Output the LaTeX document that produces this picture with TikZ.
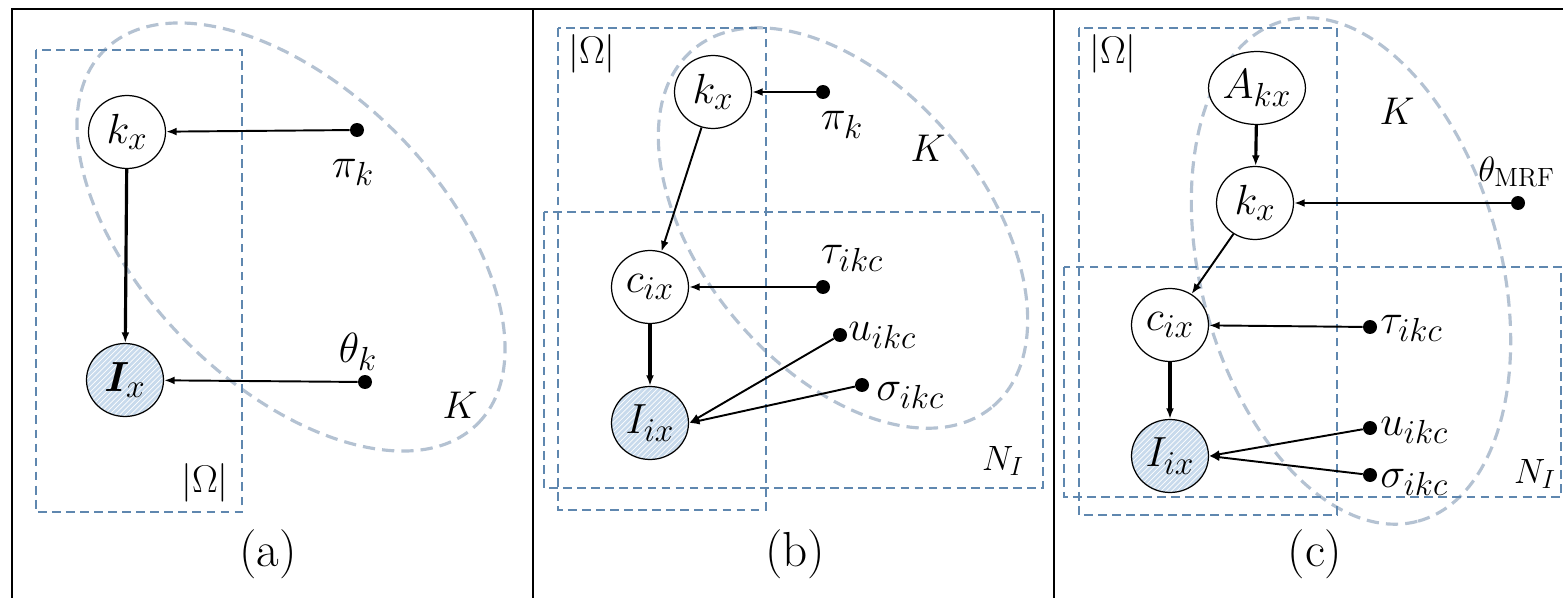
\RequirePackage{fix-cm}
\documentclass[tikz,border=0pt]{standalone}
\usepackage{bm}
\usetikzlibrary{shapes.geometric,patterns,arrows.meta}
\DeclareMathSizes{24}{24}{19}{15}
\DeclareMathSizes{22}{22}{17}{13}
\DeclareMathSizes{20}{20}{15}{12}
\definecolor{plate}{RGB}{95,135,175}
\definecolor{ellc}{RGB}{180,194,210}
\definecolor{obsfill}{RGB}{200,218,236}
\tikzset{
 lat/.style={ellipse,draw,line width=0.7pt,fill=white,minimum width=1.54cm,minimum height=1.46cm,inner sep=0pt,font=\fontsize{24}{28}\selectfont},
 obs/.style={ellipse,draw,line width=0.7pt,minimum width=1.54cm,minimum height=1.46cm,inner sep=0pt,font=\fontsize{24}{28}\selectfont,
   preaction={fill=obsfill},pattern=north east lines,pattern color=white},
 pdot/.style={circle,fill=black,inner sep=0pt,minimum size=0.28cm},
 arr/.style={-{Latex[length=6pt,width=4.5pt]},line width=1.1pt},
 arrthick/.style={-{Latex[length=6pt,width=4.5pt]},line width=1.8pt},
 platebox/.style={draw=plate,line width=0.8pt,dash pattern=on 5pt off 3pt},
 kell/.style={draw=ellc,line width=1.8pt,dash pattern=on 7pt off 4pt},
 lbl/.style={font=\fontsize{24}{28}\selectfont,inner sep=0pt},
 lblO/.style={font=\fontsize{22}{26}\selectfont,inner sep=0pt},
 lblK/.style={font=\fontsize{20}{24}\selectfont,inner sep=0pt},
 captxt/.style={font=\fontsize{28}{32}\selectfont,inner sep=0pt},
 framel/.style={line width=1.2pt},
}
\begin{document}
\begin{tikzpicture}[x=0.02cm,y=0.02cm]
\useasboundingbox (0,0) rectangle (1563,-598);
% frame
\draw[framel] (12,-598) -- (12,-9) -- (1563,-9);
\draw[framel] (533,-9) -- (533,-598);
\draw[framel] (1054,-9) -- (1054,-598);

% ---------------- panel (a)
\draw[kell,rotate around={-45:(291,-237)}] (291,-237) ellipse [x radius=264,y radius=148];
\draw[platebox] (36,-50) rectangle (242,-512);
\node[lat] (akx) at (127,-132) {$k_x$};
\node[obs] (aIx) at (125,-380) {$\bm{I}_x$};
\node[pdot] (api) at (357,-130) {};
\node[pdot] (ath) at (365,-382) {};
\draw[arr] (api) -- (akx);
\draw[arr] (ath) -- (aIx);
\draw[arrthick] (akx) -- (aIx);
\node[lbl,anchor=base] (apil) at (353,-177) {$\pi_k$};
\node[lbl,anchor=base] (athl) at (358,-362) {$\theta_k$};
\node[lblO,anchor=base] (aK) at (460,-418) {$K$};
\node[lblO,anchor=base] (aO) at (205,-492) {$|\Omega|$};
\node[captxt,anchor=base] (acap) at (268,-566) {(a)};

% ---------------- panel (b)
\draw[kell,rotate around={-50:(843,-228)}] (843,-228) ellipse [x radius=233,y radius=141];
\draw[platebox] (558,-28) rectangle (766,-510);
\draw[platebox] (544,-212) rectangle (1043,-488);
\node[lat] (bkx) at (713,-92) {$k_x$};
\node[lat] (bcx) at (650,-287) {$c_{ix}$};
\node[obs] (bIx) at (650,-423) {$I_{ix}$};
\node[pdot] (bpi) at (823,-92) {};
\node[pdot] (bta) at (823,-287) {};
\node[pdot] (bu) at (840,-335) {};
\node[pdot] (bsi) at (862,-385) {};
\draw[arr] (bpi) -- (bkx);
\draw[arr] (bkx) -- (bcx);
\draw[arr] (bta) -- (bcx);
\draw[arrthick] (bcx) -- (bIx);
\draw[arr] (bu) -- (bIx.east);
\draw[arr] (bsi) -- (bIx.east);
\node[lbl,anchor=base] (bpil) at (842,-130) {$\pi_k$};
\node[lblO,anchor=base] (bK) at (928,-162) {$K$};
\node[lbl,anchor=base] (btal) at (852,-263) {$\tau_{ikc}$};
\node[lbl,anchor=base west] (bul) at (848,-340) {$u_{ikc}$};
\node[lbl,anchor=base west] (bsil) at (876,-400) {$\sigma_{ikc}$};
\node[lblK,anchor=base] (bN) at (1003,-470) {$N_I$};
\node[lblO,anchor=base] (bO) at (592,-64) {$|\Omega|$};
\node[captxt,anchor=base] (bcap) at (795,-566) {(b)};

% ---------------- panel (c)
\draw[kell,rotate around={-75:(1351,-271)}] (1351,-271) ellipse [x radius=259,y radius=150];
\draw[platebox] (1079,-28) rectangle (1337,-515);
\draw[platebox] (1064,-267) rectangle (1561,-497);
\node[lat] (cA) at (1257,-88) {$A_{kx}$};
\node[lat] (ckx) at (1255,-203) {$k_x$};
\node[lat] (ccx) at (1170,-325) {$c_{ix}$};
\node[obs] (cIx) at (1170,-456) {$I_{ix}$};
\node[pdot] (cth) at (1518,-203) {};
\node[pdot] (cta) at (1370,-327) {};
\node[pdot] (cu) at (1370,-428) {};
\node[pdot] (csi) at (1370,-475) {};
\draw[arrthick] (cA) -- (ckx);
\draw[arr] (cth) -- (ckx);
\draw[arr] (ckx) -- (ccx);
\draw[arr] (cta) -- (ccx);
\draw[arrthick] (ccx) -- (cIx);
\draw[arr] (cu) -- (cIx.east);
\draw[arr] (csi) -- (cIx.east);
\node[lblK,anchor=base west] (cthl) at (1478,-181) {$\theta_{\mathrm{MRF}}$};
\node[lblO,anchor=base] (cK) at (1397,-125) {$K$};
\node[lbl,anchor=base west] (ctal) at (1380,-333) {$\tau_{ikc}$};
\node[lbl,anchor=base west] (cul) at (1380,-435) {$u_{ikc}$};
\node[lbl,anchor=base west] (csil) at (1380,-487) {$\sigma_{ikc}$};
\node[lblK,anchor=base] (cN) at (1535,-483) {$N_I$};
\node[lblO,anchor=base] (cO) at (1113,-64) {$|\Omega|$};
\node[captxt,anchor=base] (ccap) at (1315,-566) {(c)};
\end{tikzpicture}
\end{document}
